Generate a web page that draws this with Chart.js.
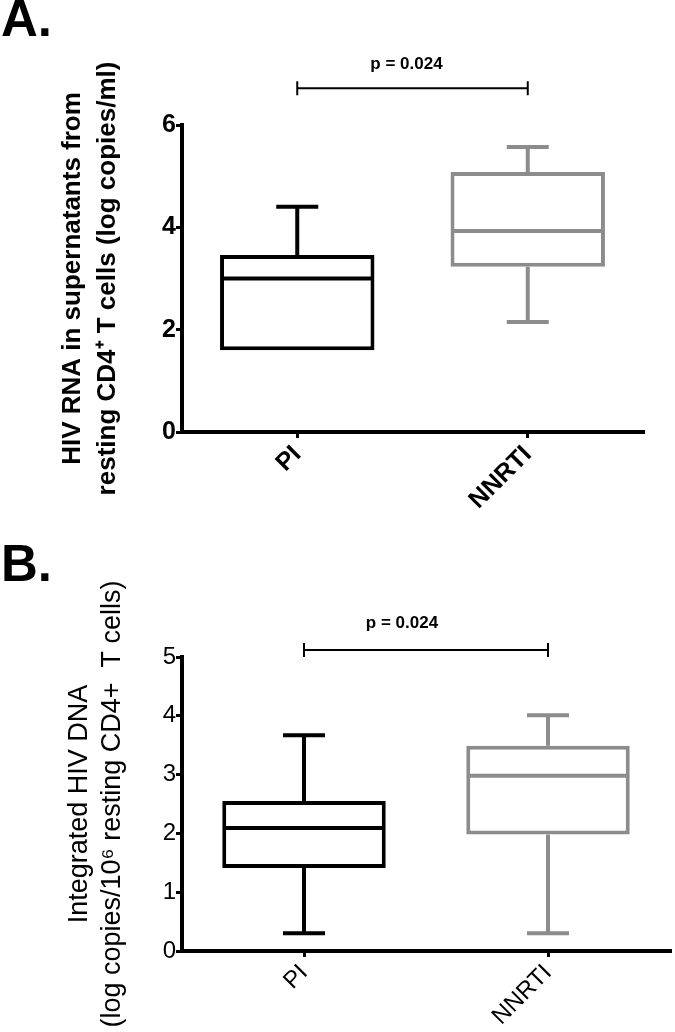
<!DOCTYPE html>
<html>
<head>
<meta charset="utf-8">
<script src="https://cdn.jsdelivr.net/npm/chart.js@4.4.1/dist/chart.umd.min.js"></script>
<style>
  body { margin: 0; background: #fff; width: 675px; height: 1032px; position: relative; overflow: hidden;
         font-family: 'Liberation Sans', Arial, sans-serif; }
  .panel { position: absolute; left: 0; width: 675px; }
  .tag { position: absolute; left: 1px; font-weight: bold; font-size: 51px; line-height: 1; }
</style>
</head>
<body>
<div class="panel" style="top:0;height:510px"><canvas id="chartA"></canvas></div>
<div class="panel" style="top:516px;height:516px"><canvas id="chartB"></canvas></div>
<div class="tag" style="top:-7px">A.</div>
<div class="tag" style="top:538px">B.</div>
<script>
const groups = ['PI', 'NNRTI'];

// A: HIV RNA in supernatants (log copies/ml)
const rnaMin = [1.60, 2.15];
const rnaQ1 = [1.60, 3.23];
const rnaMedian = [3.00, 3.93];
const rnaQ3 = [3.46, 5.08];
const rnaMax = [4.40, 5.57];
const rnaTicks = [0, 2, 4, 6];

// B: integrated HIV DNA (log copies/10^6 cells)
const dnaMin = [0.30, 0.30];
const dnaQ1 = [1.41, 1.98];
const dnaMedian = [2.09, 2.98];
const dnaQ3 = [2.55, 3.49];
const dnaMax = [3.67, 4.01];
const dnaTicks = [0, 1, 2, 3, 4, 5];

const pValue = 'p = 0.024';

const groupColors = ['#000000', '#8c8c8c'];
const FONT = "'Liberation Sans', Arial, sans-serif";

// whiskers, medians and the p-value bracket
const boxExtras = {
  id: 'boxExtras',
  beforeDatasetsDraw(chart, args, opts) {
    const {ctx, scales: {x, y}} = chart;
    ctx.save();
    ctx.lineWidth = 4;
    opts.min.forEach((lo, i) => {
      const px = x.getPixelForValue(i);
      ctx.strokeStyle = groupColors[i];
      [[opts.q3[i], opts.max[i]], [opts.q1[i], lo]].forEach(([from, to]) => {
        if (from === to) return;
        const yTo = y.getPixelForValue(to);
        ctx.beginPath();
        ctx.moveTo(px, y.getPixelForValue(from));
        ctx.lineTo(px, yTo);
        ctx.moveTo(px - 21, yTo);
        ctx.lineTo(px + 21, yTo);
        ctx.stroke();
      });
    });
    ctx.restore();
  },
  afterDatasetsDraw(chart, args, opts) {
    const {ctx, scales: {x, y}} = chart;
    const meta = chart.getDatasetMeta(0);
    ctx.save();
    ctx.lineWidth = 4;
    meta.data.forEach((bar, i) => {
      const yy = y.getPixelForValue(opts.median[i]);
      ctx.strokeStyle = groupColors[i];
      ctx.beginPath();
      ctx.moveTo(bar.x - bar.width / 2 + 2, yy);
      ctx.lineTo(bar.x + bar.width / 2 - 2, yy);
      ctx.stroke();
    });

    // significance bracket
    const x0 = x.getPixelForValue(0), x1 = x.getPixelForValue(1);
    const yb = y.getPixelForValue(opts.bracketAt);
    ctx.strokeStyle = '#000';
    ctx.lineWidth = 2;
    ctx.beginPath();
    ctx.moveTo(x0, yb); ctx.lineTo(x1, yb);
    ctx.moveTo(x0, yb - 7); ctx.lineTo(x0, yb + 7);
    ctx.moveTo(x1, yb - 7); ctx.lineTo(x1, yb + 7);
    ctx.stroke();
    ctx.fillStyle = '#000';
    ctx.font = 'bold 17px ' + FONT;
    ctx.textAlign = 'center';
    ctx.textBaseline = 'middle';
    ctx.fillText(pValue, (x0 + x1) / 2 - opts.textShift, y.getPixelForValue(opts.textAt));
    ctx.restore();
  }
};

function makeChart(id, cfg) {
  return new Chart(document.getElementById(id), {
    type: 'bar',
    data: {
      labels: groups,
      datasets: [{
        data: cfg.q1.map((v, i) => [v, cfg.q3[i]]),
        backgroundColor: '#ffffff',
        borderColor: groupColors,
        borderWidth: 4,
        borderSkipped: false,
        barPercentage: 0.67,
        categoryPercentage: 1
      }]
    },
    options: {
      responsive: true,
      maintainAspectRatio: false,
      animation: false,
      events: [],
      layout: { padding: { top: cfg.top, right: cfg.right, left: 0, bottom: 0 } },
      plugins: {
        legend: { display: false },
        tooltip: { enabled: false },
        boxExtras: cfg
      },
      scales: {
        x: {
          type: 'category',
          offset: true,
          afterFit: s => { s.height = cfg.xHeight; },
          grid: { offset: false, drawOnChartArea: false, drawTicks: true, tickLength: 6, lineWidth: 3, color: '#000' },
          border: { color: '#000', width: 4 },
          ticks: {
            color: '#000', minRotation: 45, maxRotation: 45, padding: 2,
            font: { family: FONT, size: cfg.tickSize, weight: cfg.weight }
          }
        },
        y: {
          min: 0,
          max: cfg.yTicks[cfg.yTicks.length - 1],
          afterFit: s => { s.width = 182; },
          afterBuildTicks: s => { s.ticks = cfg.yTicks.map(v => ({ value: v })); },
          grid: { drawOnChartArea: false, drawTicks: true, tickLength: 6, lineWidth: 3, color: '#000' },
          border: { color: '#000', width: 4 },
          ticks: {
            color: '#000', padding: 0,
            font: { family: FONT, size: cfg.tickSize, weight: cfg.weight }
          },
          title: {
            display: true,
            text: cfg.title,
            color: '#000',
            padding: { top: cfg.titlePad, bottom: 0 },
            font: { family: FONT, size: cfg.titleSize, weight: cfg.weight, lineHeight: cfg.titleLh }
          }
        }
      }
    },
    plugins: [boxExtras]
  });
}

makeChart('chartA', {
  min: rnaMin, q1: rnaQ1, median: rnaMedian, q3: rnaQ3, max: rnaMax, yTicks: rnaTicks,
  title: ['HIV RNA in supernatants from', 'resting CD4\u207A T cells (log copies/ml)'],
  top: 125, right: 32, xHeight: 78, tickSize: 25, weight: 'bold',
  titleSize: 26, titleLh: 1.32, titlePad: 56,
  bracketAt: 6.72, textAt: 7.19, textShift: 6
});

makeChart('chartB', {
  min: dnaMin, q1: dnaQ1, median: dnaMedian, q3: dnaQ3, max: dnaMax, yTicks: dnaTicks,
  title: ['Integrated HIV DNA', '(log copies/10\u2076 resting CD4+  T cells)'],
  top: 141, right: 5, xHeight: 81, tickSize: 24, weight: 'normal',
  titleSize: 27, titleLh: 1.22, titlePad: 63,
  bracketAt: 5.12, textAt: 5.57, textShift: 24
});
</script>
</body>
</html>
